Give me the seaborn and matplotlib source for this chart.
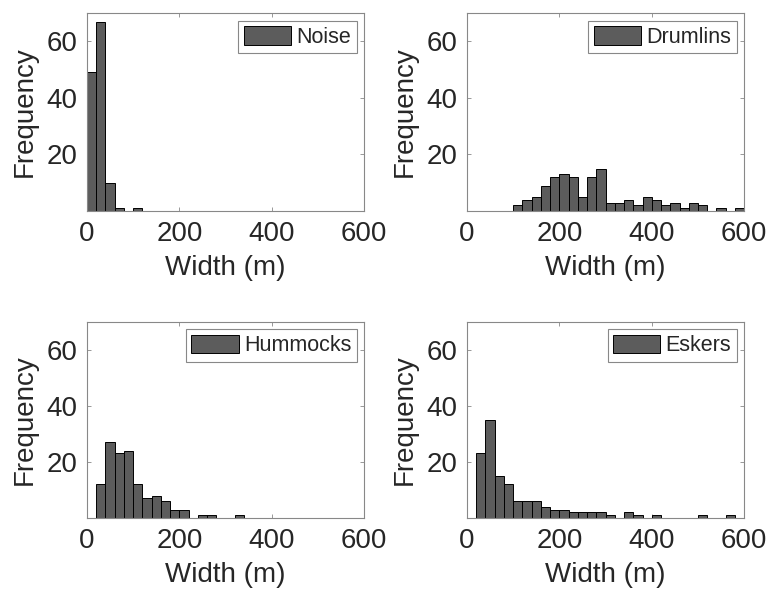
import pandas as pd
import matplotlib
matplotlib.use("Agg")
import matplotlib.pyplot as plt
import seaborn as sns

# bin edges (m) shared by every panel
bin_edges = list(range(0, 620, 20))

# counts per 20 m bin, 0-600 m
noise_counts = [49, 67, 10, 1, 0, 1] + [0] * 24
drumlin_counts = [0] * 5 + [2, 4, 5, 9, 12, 13, 12, 5, 12, 15,
                            3, 3, 4, 2, 5, 4, 2, 3, 1, 3,
                            2, 0, 1, 0, 1]
hummock_counts = [0, 12, 27, 23, 24, 12, 7, 8, 6, 3, 3, 0, 1, 1, 0, 0, 1] + [0] * 13
esker_counts = [0, 23, 35, 15, 12, 6, 6, 6, 4, 3, 3, 2, 2, 2, 2, 1, 0, 2, 1, 0,
                1, 0, 0, 0, 0, 1, 0, 0, 1, 0]

labels = ["Noise", "Drumlins", "Hummocks", "Eskers"]
all_counts = [noise_counts, drumlin_counts, hummock_counts, esker_counts]

x_ticks = [0, 200, 400, 600]
y_ticks = [20, 40, 60]

sns.set_theme(style="white")
plt.rcParams["font.family"] = ["Liberation Sans", "DejaVu Sans"]

fig = plt.figure(figsize=(7.7, 5.96), dpi=100)
positions = [
    [0.113, 0.646, 0.360, 0.332],
    [0.6065, 0.646, 0.360, 0.332],
    [0.113, 0.131, 0.360, 0.329],
    [0.6065, 0.131, 0.360, 0.329],
]

centers = [e + 10 for e in bin_edges[:-1]]
text_col = "#262626"

for pos, counts, name in zip(positions, all_counts, labels):
    ax = fig.add_axes(pos)
    df = pd.DataFrame({"width": centers, "n": counts})
    sns.histplot(data=df, x="width", weights="n", bins=bin_edges, ax=ax,
                 color="#5c5c5c", alpha=1, edgecolor="black", linewidth=0.7,
                 label=name)
    ax.set_xlim(0, 600)
    ax.set_ylim(0, 70)
    ax.set_xticks(x_ticks)
    ax.set_yticks(y_ticks)
    ax.set_xlabel("Width (m)", fontsize=20, color=text_col, labelpad=6)
    ax.set_ylabel("Frequency", fontsize=20, color=text_col, labelpad=6)
    ax.tick_params(direction="in", length=3, width=0.6, labelsize=20,
                   labelcolor=text_col, color="#888888",
                   top=True, right=True, bottom=True, left=True, pad=7)
    for sp in ax.spines.values():
        sp.set_color("#888888")
        sp.set_linewidth(0.8)
    leg = ax.legend(loc="upper right", fontsize=15.5, fancybox=False,
                    handlelength=2.2, handleheight=0.95, handletextpad=0.25,
                    borderpad=0.25, borderaxespad=0.35, framealpha=1)
    leg.get_frame().set_edgecolor("#888888")
    leg.get_frame().set_linewidth(0.8)

fig.savefig("out.png", dpi=100)
